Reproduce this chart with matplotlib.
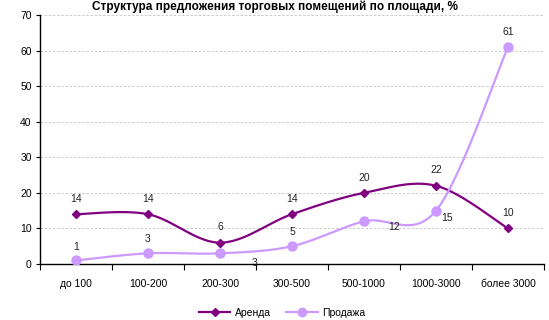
import numpy as np
import matplotlib
matplotlib.use("Agg")
import matplotlib.pyplot as plt
from matplotlib.lines import Line2D

plt.rcParams['font.family'] = ['Liberation Sans', 'DejaVu Sans']

title = "Структура предложения торговых помещений по площади, %"
categories = ["до 100", "100-200", "200-300", "300-500", "500-1000", "1000-3000", "более 3000"]
rent = [14, 14, 6, 14, 20, 22, 10]
sale = [1, 3, 3, 5, 12, 15, 61]
series_names = ["Аренда", "Продажа"]
rent_color = "#800080"
sale_color = "#CC99FF"

# label offsets in points (dx, dy) relative to each marker
rent_offsets = [(0, 11)] * 7
sale_offsets = [(0, 10), (0, 10), (25, -7), (0, 10), (22, -4), (8, -5), (0, 11)]


def smooth(xs, ys, n=30):
    """Bezier smoothing through every point (Catmull-Rom style, tension 1/6)."""
    pts = np.column_stack([xs, ys]).astype(float)
    ext = np.vstack([pts[0], pts, pts[-1]])
    out = []
    t = np.linspace(0, 1, n)[:, None]
    for i in range(len(pts) - 1):
        p0 = ext[i + 1]
        p3 = ext[i + 2]
        c1 = p0 + (ext[i + 2] - ext[i]) / 6.0
        c2 = p3 - (ext[i + 3] - ext[i + 1]) / 6.0
        seg = ((1 - t) ** 3) * p0 + 3 * ((1 - t) ** 2) * t * c1 + 3 * (1 - t) * t ** 2 * c2 + t ** 3 * p3
        out.append(seg if i == 0 else seg[1:])
    seg = np.vstack(out)
    return seg[:, 0], seg[:, 1]


fig = plt.figure(figsize=(5.49, 3.2), dpi=100)
ax = fig.add_axes([40 / 549, 1 - 264 / 320, 504 / 549, 249 / 320])

x = np.arange(len(categories))

for vals, color, marker, ms, offs in [
    (rent, rent_color, "D", 4.5, rent_offsets),
    (sale, sale_color, "o", 6.5, sale_offsets),
]:
    sx, sy = smooth(x, vals)
    ax.plot(sx, sy, color=color, lw=1.6, zorder=3, solid_capstyle="round")
    ax.plot(x, vals, linestyle="none", marker=marker, color=color, ms=ms, zorder=4)
    for xi, v, (dx, dy) in zip(x, vals, offs):
        ax.annotate(str(v), (xi, v), xytext=(dx, dy), textcoords="offset points",
                    ha="center", va="center", fontsize=7.5, color="#222222", zorder=5)

ax.set_xlim(-0.5, len(categories) - 0.5)
ax.set_ylim(0, 70)
ax.set_yticks(np.arange(0, 71, 10))
ax.yaxis.grid(True, linestyle=(0, (3, 2)), color="#c4c4c4", lw=0.6)
ax.set_axisbelow(True)

ax.set_xticks(x)
ax.set_xticklabels(categories)
ax.set_xticks(np.arange(-0.5, len(categories), 1), minor=True)
ax.tick_params(axis="x", which="major", length=0, pad=11, labelsize=7.5)
ax.tick_params(axis="x", which="minor", length=4, width=0.8, direction="out")
ax.tick_params(axis="y", length=3, width=0.8, labelsize=7.5, pad=3)

for s in ("top", "right"):
    ax.spines[s].set_visible(False)
for s in ("left", "bottom"):
    ax.spines[s].set_linewidth(1.0)
    ax.spines[s].set_color("black")

fig.text(0.5, 1 - 10 / 320, title, ha="center", va="baseline", fontsize=8.5, fontweight="bold")

handles = [
    Line2D([], [], color=rent_color, marker="D", ms=4, lw=1.6),
    Line2D([], [], color=sale_color, marker="o", ms=6, lw=1.6),
]
fig.legend(handles, series_names, loc="center", ncol=2, frameon=False,
           bbox_to_anchor=(282 / 549, 1 - 313 / 320), fontsize=7.5,
           handlelength=3, columnspacing=1.5, handletextpad=0.4)

fig.savefig("out.png", dpi=100)
